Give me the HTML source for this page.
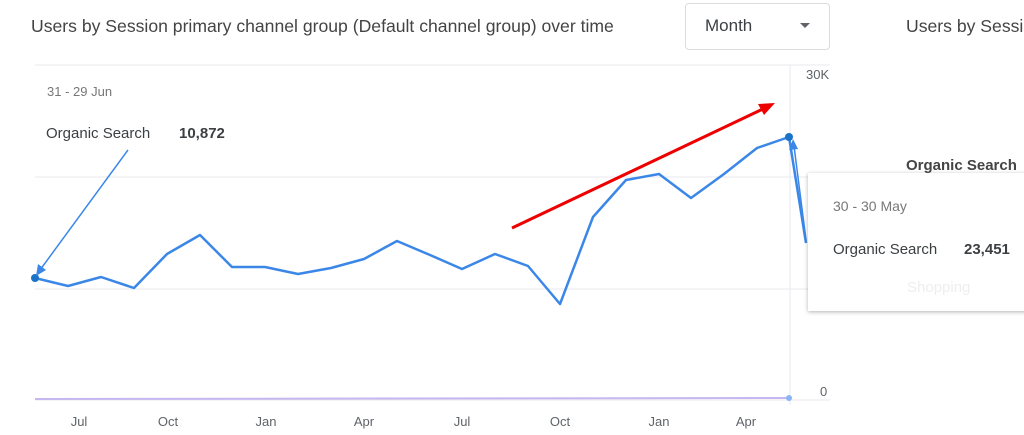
<!DOCTYPE html>
<html><head><style>
body{margin:0;width:1024px;height:435px;background:#fff;overflow:hidden;font-family:"Liberation Sans",Arial,sans-serif;position:relative}
.t{position:absolute;color:#3c4043;white-space:nowrap}
</style></head><body>
<div class="t" style="left:31px;top:16px;font-size:17.6px;color:#444">Users by Session primary channel group (Default channel group) over time</div>
<div style="position:absolute;left:685px;top:3px;width:145px;height:47px;border:1px solid #dadce0;border-radius:4px;box-sizing:border-box"></div>
<div class="t" style="left:705px;top:16px;font-size:17px">Month</div>
<div style="position:absolute;left:800px;top:23px;width:0;height:0;border-left:5px solid transparent;border-right:5px solid transparent;border-top:5px solid #5f6368"></div>
<div class="t" style="left:906px;top:16px;font-size:17.6px;color:#444">Users by Sessio</div>
<svg width="1024" height="435" style="position:absolute;left:0;top:0">
<g stroke="#e8eaed" stroke-width="1">
<line x1="35" y1="65" x2="830" y2="65"/><line x1="35" y1="177" x2="830" y2="177"/><line x1="35" y1="289" x2="830" y2="289"/><line x1="35" y1="400" x2="830" y2="400"/>
<line x1="790" y1="65" x2="790" y2="405"/>
</g>
<line x1="35" y1="399" x2="790" y2="398" stroke="#c5b7f0" stroke-width="2"/>
<circle cx="789" cy="398" r="3" fill="#8ab4f8"/>
<polyline fill="none" stroke="#3b87e8" stroke-width="2.5" stroke-linejoin="round" points="35,278 68,286 101,277 134,288 167,254 200,235 232,267 265,267 298,274 331,268 364,259 397,241 430,255 462,269 495,254 528,266 560,304 593,217 626,180 659,174 691,198 724,174 757,148 789,137 806,243"/>
<circle cx="35" cy="278" r="4" fill="#1a73c8"/><circle cx="789" cy="137" r="4" fill="#1a73c8"/>
<line x1="128" y1="150" x2="40" y2="270" stroke="#3b87e8" stroke-width="1.5"/>
<polygon points="36,276 38,264 46,270" fill="#3b87e8"/>
<line x1="806" y1="240" x2="794" y2="146" stroke="#3b87e8" stroke-width="1.5"/>
<polygon points="793,139 789,150 798,149" fill="#3b87e8"/>
<line x1="512" y1="228" x2="765" y2="108" stroke="#e00" stroke-width="3"/>
<polygon points="775,103 758,104 764,115" fill="#e00"/>
<g font-size="13" fill="#5f6368" font-family="Liberation Sans,sans-serif">
<text x="79" y="426" text-anchor="middle">Jul</text><text x="168" y="426" text-anchor="middle">Oct</text><text x="266" y="426" text-anchor="middle">Jan</text><text x="364" y="426" text-anchor="middle">Apr</text><text x="462" y="426" text-anchor="middle">Jul</text><text x="560" y="426" text-anchor="middle">Oct</text><text x="659" y="426" text-anchor="middle">Jan</text><text x="746" y="426" text-anchor="middle">Apr</text>
<text x="806" y="79">30K</text><text x="820" y="396">0</text>
</g>
</svg>
<div style="position:absolute;left:25px;top:66px;width:222px;height:78px;background:#fff"></div>
<div class="t" style="left:47px;top:84px;font-size:13px;color:#777">31 - 29 Jun</div>
<div class="t" style="left:46px;top:125px;font-size:15px">Organic Search</div>
<div class="t" style="left:179px;top:125px;font-size:15px;font-weight:bold">10,872</div>
<div class="t" style="left:906px;top:157px;font-size:15px;font-weight:bold;color:#444">Organic Search</div>
<div style="position:absolute;left:808px;top:173px;width:230px;height:138px;background:#fff;box-shadow:0 1px 4px rgba(0,0,0,.3)"></div>
<div class="t" style="left:833px;top:198px;font-size:14px;color:#777">30 - 30 May</div>
<div class="t" style="left:833px;top:241px;font-size:15px">Organic Search</div>
<div class="t" style="left:964px;top:241px;font-size:15px;font-weight:bold">23,451</div>
<div class="t" style="left:907px;top:279px;font-size:15px;color:#eee">Shopping</div>
</body></html>
